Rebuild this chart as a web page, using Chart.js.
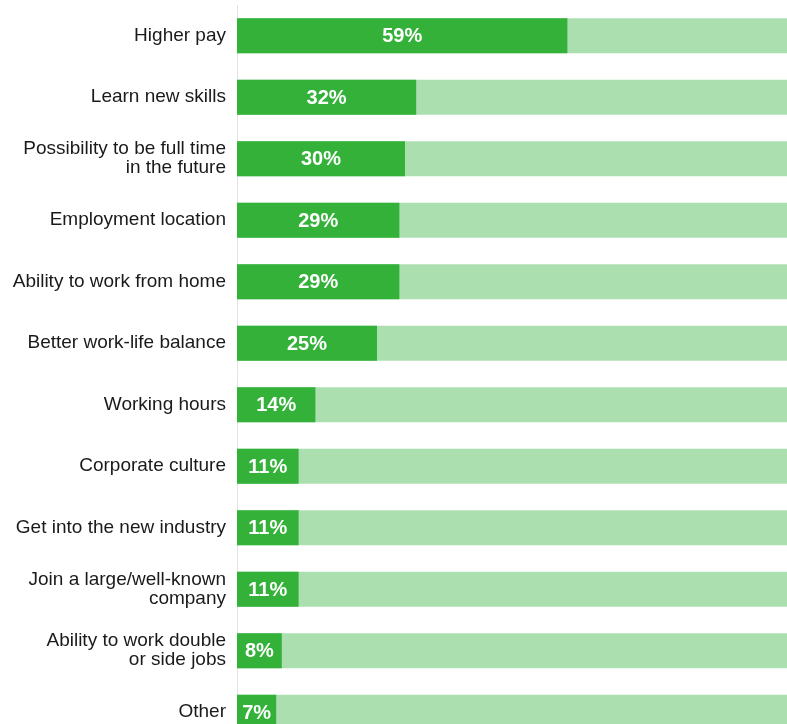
<!DOCTYPE html>
<html>
<head>
<meta charset="utf-8">
<script src="https://cdn.jsdelivr.net/npm/chart.js@4"></script>
<style>
  html, body { margin: 0; padding: 0; background: #fff; overflow: hidden; }
  #wrap { position: absolute; left: 0; top: 0; width: 797px; height: 743px; }
</style>
</head>
<body>
<div id="wrap"><canvas id="c"></canvas></div>
<script>
const categories = [
  "Higher pay",
  "Learn new skills",
  ["Possibility to be full time", "in the future"],
  "Employment location",
  "Ability to work from home",
  "Better work-life balance",
  "Working hours",
  "Corporate culture",
  "Get into the new industry",
  ["Join a large/well-known", "company"],
  ["Ability to work double", "or side jobs"],
  "Other"
];
const shareValues = [59, 32, 30, 29, 29, 25, 14, 11, 11, 11, 8, 7];
const trackValues = [100, 100, 100, 100, 100, 100, 100, 100, 100, 100, 100, 100];

const FONT = "'Liberation Sans', Arial, Helvetica, sans-serif";

const valueLabels = {
  id: 'valueLabels',
  afterDatasetsDraw(chart) {
    const ctx = chart.ctx;
    const meta = chart.getDatasetMeta(0);
    ctx.save();
    ctx.fillStyle = '#ffffff';
    ctx.font = 'bold 20px ' + FONT;
    ctx.textAlign = 'center';
    ctx.textBaseline = 'middle';
    meta.data.forEach((bar, i) => {
      const cx = (bar.base + bar.x) / 2;
      ctx.fillText(shareValues[i] + '%', cx, bar.y + 1);
    });
    ctx.restore();
  }
};

new Chart(document.getElementById('c'), {
  type: 'bar',
  data: {
    labels: categories,
    datasets: [
      {
        data: shareValues,
        backgroundColor: '#33b139',
        borderWidth: 0,
        barPercentage: 0.57,
        categoryPercentage: 1.0
      },
      {
        data: trackValues,
        backgroundColor: '#acdfb0',
        borderWidth: 0,
        barPercentage: 0.57,
        categoryPercentage: 1.0
      }
    ]
  },
  options: {
    indexAxis: 'y',
    responsive: true,
    maintainAspectRatio: false,
    animation: false,
    layout: { padding: { top: 5, left: 0, right: 0, bottom: 0 } },
    plugins: {
      legend: { display: false },
      tooltip: { enabled: false }
    },
    scales: {
      x: {
        display: false,
        min: 0,
        max: 100,
        stacked: false
      },
      y: {
        stacked: true,
        grid: { display: false, drawTicks: false },
        border: { display: true, color: '#e3e3e3', width: 1 },
        ticks: {
          color: '#1a1a1a',
          padding: 11,
          font: { family: FONT, size: 19, lineHeight: 1.0 },
          autoSkip: false
        },
        afterFit(scale) {
          scale.width = 237;
          scale.paddingTop = 0;
          scale.paddingBottom = 0;
        }
      }
    }
  },
  plugins: [valueLabels]
});
</script>
</body>
</html>
